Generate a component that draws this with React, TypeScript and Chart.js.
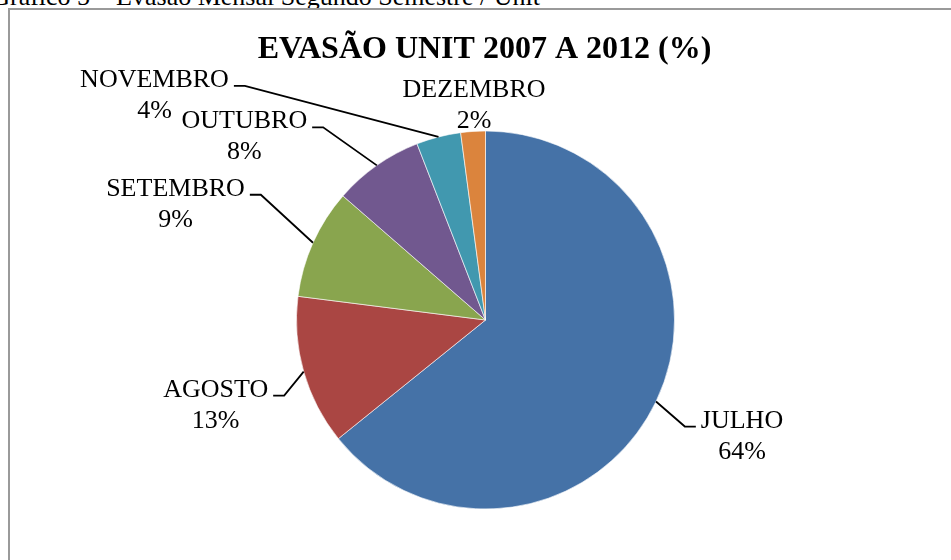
import React, { useEffect, useRef } from "react";
import { Chart, registerables } from "chart.js";

Chart.register(...registerables);

const categories = ["JULHO", "AGOSTO", "SETEMBRO", "OUTUBRO", "NOVEMBRO", "DEZEMBRO"];
const values = [64.2, 12.8, 9.4, 7.7, 3.8, 2.1];
const sliceColors = ["#4572A7", "#AA4643", "#89A54E", "#71588F", "#4198AF", "#DB843D"];
const chartTitle = "EVASÃO UNIT 2007 A 2012 (%)";
const caption = "Gráfico 5 – Evasão Mensal Segundo Semestre / Unit";

// label placement relative to each slice's outer-edge midpoint (text centre x, first baseline y)
const labelOffsets: [number, number][] = [
  [86, 26],
  [-88, 25],
  [-137.5, -47],
  [-132.5, -37],
  [-284, -50],
  [1, -34],
];
const showLeader = [true, true, true, true, true, false];

const labelPlugin = {
  id: "excelLabels",
  afterDraw(chart: any) {
    const ctx = chart.ctx as CanvasRenderingContext2D;
    const meta = chart.getDatasetMeta(0);
    const total = values.reduce((a, b) => a + b, 0);
    ctx.save();
    ctx.fillStyle = "#000";
    ctx.textBaseline = "alphabetic";
    ctx.textAlign = "center";
    ctx.font = "bold 32px 'Liberation Serif'";
    const ca = chart.chartArea;
    ctx.fillText(chartTitle, (ca.left + ca.right) / 2 - 1, 58);

    ctx.font = "26px 'Liberation Serif'";
    ctx.strokeStyle = "#000";
    ctx.lineWidth = 1.8;
    meta.data.forEach((arc: any, i: number) => {
      const p = arc.getProps(["x", "y", "startAngle", "endAngle", "outerRadius"], true);
      const mid = (p.startAngle + p.endAngle) / 2;
      const ex = p.x + Math.cos(mid) * p.outerRadius;
      const ey = p.y + Math.sin(mid) * p.outerRadius;
      const [dx, dy] = labelOffsets[i];
      const cx = ex + dx;
      const by = ey + dy;
      const pct = Math.round((values[i] / total) * 100) + "%";
      ctx.fillText(categories[i], cx, by);
      ctx.fillText(pct, cx, by + 31);
      if (showLeader[i]) {
        const w = ctx.measureText(categories[i]).width;
        const side = dx < 0 ? 1 : -1;
        const sx = cx + side * (w / 2 + 5);
        const hy = by - 1;
        ctx.beginPath();
        ctx.moveTo(sx, hy);
        ctx.lineTo(sx + side * 11, hy);
        ctx.lineTo(ex, ey);
        ctx.stroke();
      }
    });
    ctx.restore();
  },
};

export default function App() {
  const canvasRef = useRef<HTMLCanvasElement | null>(null);

  useEffect(() => {
    if (!canvasRef.current) return;
    const chart = new Chart(canvasRef.current, {
      type: "pie",
      data: {
        labels: categories,
        datasets: [
          {
            data: values,
            backgroundColor: sliceColors,
            borderColor: "rgba(255,255,255,0.6)",
            borderWidth: 1,
          },
        ],
      },
      options: {
        responsive: false,
        animation: false,
        devicePixelRatio: 1,
        layout: { padding: { left: 296, right: 276, top: 130.5, bottom: 50.5 } },
        plugins: {
          legend: { display: false },
          tooltip: { enabled: false },
          title: { display: false },
        },
      },
      plugins: [labelPlugin],
    });
    return () => chart.destroy();
  }, []);

  return (
    <div>
      <div
        style={{
          position: "absolute",
          right: 411,
          top: -16,
          fontFamily: "'Liberation Serif'",
          fontSize: 26,
          lineHeight: "26px",
          whiteSpace: "nowrap",
          color: "#000",
        }}
      >
        {caption}
      </div>
      <div
        style={{
          position: "absolute",
          left: 8,
          top: 8,
          width: 943,
          height: 552,
          boxSizing: "border-box",
          borderLeft: "2px solid #9a9a9a",
          borderTop: "2px solid #9a9a9a",
        }}
      />
      <canvas
        ref={canvasRef}
        width={951}
        height={560}
        style={{ position: "absolute", left: 0, top: 0, width: 951, height: 560 }}
      />
    </div>
  );
}
